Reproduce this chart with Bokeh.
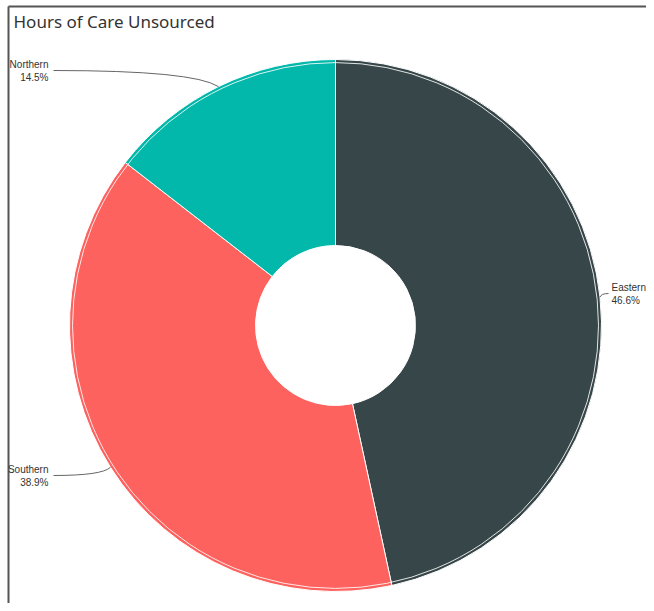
import numpy as np
from bokeh.plotting import figure
from bokeh.models import Range1d
from bokeh.embed import file_html
from bokeh.resources import INLINE
from bokeh.core.properties import value

# ---- data ----
regions = ["Eastern", "Southern", "Northern"]
shares = [46.6, 38.9, 14.5]
pct_labels = ["46.6%", "38.9%", "14.5%"]
colors = ["#374649", "#FD625E", "#01B8AA"]
title_text = "Hours of Care Unsourced"

# ---- layout (picture coordinates, y measured from top) ----
W, H = 646, 603


def sy(y):
    return H - y


p = figure(width=W, height=H,
           x_range=Range1d(0, W), y_range=Range1d(0, H),
           output_backend="svg", toolbar_location=None, min_border=0)
p.axis.visible = False
p.grid.visible = False
p.outline_line_color = None
p.background_fill_color = "white"
p.border_fill_color = "white"

# frame lines (left / top)
p.segment(x0=[8, 8], y0=[sy(6), sy(6)], x1=[8, W], y1=[sy(H), sy(6)],
          line_color="#555555", line_width=2)

# title
p.text(x=[13], y=[sy(21)], text=[title_text], text_font=value("Noto Sans"),
       text_font_size="17px", text_color="#333333", text_baseline="middle", text_align="left")

# donut
cx, cy = 335, sy(325)
R, r = 266, 80
frac = np.array(shares) / np.sum(shares)
cum = np.cumsum(frac)
starts = np.pi / 2 - 2 * np.pi * (cum - frac)
ends = np.pi / 2 - 2 * np.pi * cum
mids = (starts + ends) / 2

p.annular_wedge(x=cx, y=cy, inner_radius=r, outer_radius=R,
                start_angle=list(starts), end_angle=list(ends), direction="clock",
                fill_color=colors, line_color="white", line_width=1)
p.arc(x=cx, y=cy, radius=R - 3, start_angle=0, end_angle=2 * np.pi,
      line_color="white", line_width=1, line_alpha=0.85)

# leader lines + labels
label_anchor = {"Eastern": (608, 293, "left", 611),
                "Southern": (53, 475, "right", 48),
                "Northern": (53, 70, "right", 48)}
for name, pct, m in zip(regions, pct_labels, mids):
    ex, ey_s, align, tx = label_anchor[name]
    sx0 = cx + R * np.cos(m)
    sy0 = cy + R * np.sin(m)
    ey = sy(ey_s)
    ctrlx = sx0 + (ex - sx0) * 0.15
    p.quadratic(x0=[sx0], y0=[sy0], x1=[ex], y1=[ey], cx=[ctrlx], cy=[ey],
                line_color="#666666", line_width=1)
    p.text(x=[tx], y=[sy(ey_s - 6)], text=[name], text_font=value("Liberation Sans"),
           text_font_size="10px", text_color="#333333", text_baseline="middle", text_align=align)
    p.text(x=[tx], y=[sy(ey_s + 7)], text=[pct], text_font=value("Liberation Sans"),
           text_font_size="10px", text_color="#333333", text_baseline="middle", text_align=align)

open("out.html", "w").write(file_html(p, INLINE))
